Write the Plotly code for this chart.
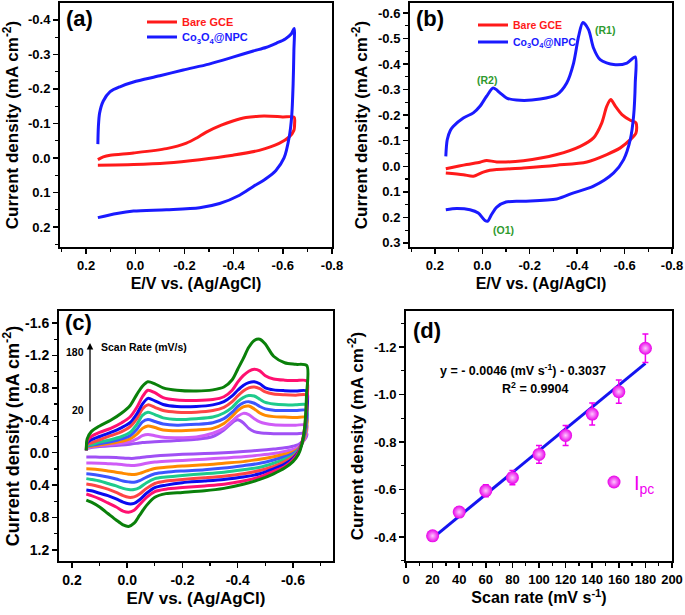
import plotly.graph_objects as go

# ---------------- Panel (a) ----------------
a_gce_x = [0.152, 0.13, 0.102, 0.007, -0.127, -0.208, -0.25, -0.289, -0.35, -0.397, -0.45, -0.504, -0.55, -0.599, -0.646,
           -0.648, -0.645, -0.626, -0.585, -0.504, -0.397, -0.262, -0.127, 0.007, 0.152]
a_gce_y = [0.005, -0.003, -0.008, -0.0145, -0.027, -0.043, -0.058, -0.075, -0.095, -0.107, -0.117, -0.121, -0.121, -0.119, -0.118,
           -0.10, -0.08, -0.061, -0.042, -0.022, -0.008, 0.005, 0.0145, 0.019, 0.021]
a_npc_x = [0.152, 0.150, 0.145, 0.13, 0.102, 0.06, 0.007, -0.1, -0.195, -0.3, -0.397, -0.48, -0.531, -0.575, -0.61, -0.635, -0.646,
           -0.645, -0.642, -0.636, -0.626, -0.605, -0.572, -0.531, -0.477, -0.424, -0.343, -0.262, -0.127, 0.007, 0.075, 0.152]
a_npc_y = [-0.04, -0.09, -0.13, -0.165, -0.192, -0.207, -0.22, -0.238, -0.255, -0.272, -0.292, -0.31, -0.32, -0.333, -0.345, -0.36, -0.375,
           -0.31, -0.215, -0.12, -0.061, 0.0, 0.036, 0.06, 0.084, 0.108, 0.132, 0.144, 0.15, 0.154, 0.161, 0.173]

# ---------------- Panel (b) ----------------
b_gce_x = [0.154, 0.066, 0.010, -0.018, -0.061, -0.173, -0.314, -0.413, -0.469, -0.504, -0.525, -0.542, -0.561, -0.589, -0.624, -0.648,
           -0.648, -0.624, -0.582, -0.525, -0.441, -0.314, -0.173, -0.032, -0.004, 0.038, 0.080, 0.154]
b_gce_y = [0.010, -0.007, -0.016, -0.023, -0.017, -0.022, -0.046, -0.078, -0.111, -0.170, -0.235, -0.261, -0.235, -0.202, -0.180, -0.170,
           -0.130, -0.104, -0.072, -0.046, -0.017, -0.004, 0.007, 0.016, 0.023, 0.039, 0.033, 0.026]
b_npc_x = [0.154, 0.148, 0.135, 0.123, 0.080, 0.038, 0.010, -0.018, -0.046, -0.075, -0.103, -0.159, -0.244, -0.314, -0.356, -0.385,
           -0.406, -0.424, -0.448, -0.469, -0.497, -0.554, -0.610, -0.645,
           -0.645, -0.638, -0.624, -0.596, -0.554, -0.469, -0.385, -0.314, -0.173, -0.10, -0.061, -0.039, -0.023, -0.011, 0.017, 0.052, 0.108, 0.154]
b_npc_y = [-0.039, -0.104, -0.14, -0.156, -0.189, -0.209, -0.235, -0.274, -0.306, -0.287, -0.267, -0.258, -0.263, -0.280, -0.326, -0.404,
           -0.508, -0.563, -0.535, -0.463, -0.417, -0.398, -0.404, -0.428,
           -0.326, -0.196, -0.104, -0.026, 0.026, 0.078, 0.104, 0.128, 0.137, 0.14, 0.16, 0.189, 0.215, 0.212, 0.183, 0.170, 0.165, 0.170]
b_labels = ["(R1)", "(R2)", "(O1)"]
b_label_x = [-0.518, -0.018, -0.089]
b_label_y = [-0.532, -0.339, 0.248]

# ---------------- Panel (c) ----------------
c_rates = [20, 40, 60, 80, 100, 120, 140, 160, 180]
c_fwd_x = [0.148, 0.145, 0.13, 0.10, 0.06, 0.02, -0.01, -0.035, -0.055, -0.075, -0.10, -0.13, -0.18, -0.25, -0.31, -0.35,
           -0.38, -0.40, -0.42, -0.44, -0.46, -0.48, -0.50, -0.53, -0.57, -0.61, -0.65]
c_rev_x = [-0.649, -0.642, -0.632, -0.62, -0.60, -0.57, -0.53, -0.48, -0.42, -0.35, -0.28, -0.20, -0.14, -0.10, -0.07, -0.045,
           -0.025, -0.005, 0.015, 0.04, 0.07, 0.10, 0.13, 0.148]
c_fwd_20 = [-0.03, -0.05, -0.065, -0.075, -0.085, -0.095, -0.105, -0.115, -0.125, -0.13, -0.135, -0.14, -0.15, -0.165, -0.20, -0.28,
            -0.37, -0.405, -0.37, -0.30, -0.26, -0.245, -0.24, -0.235, -0.235, -0.235, -0.235]
c_fwd_40 = [-0.03, -0.055, -0.07, -0.085, -0.10, -0.115, -0.135, -0.17, -0.21, -0.225, -0.21, -0.19, -0.185, -0.195, -0.24, -0.30,
            -0.39, -0.45, -0.485, -0.47, -0.42, -0.38, -0.36, -0.345, -0.34, -0.34, -0.34]
c_fwd_60 = [-0.03, -0.07, -0.08, -0.095, -0.115, -0.14, -0.17, -0.23, -0.30, -0.33, -0.31, -0.28, -0.27, -0.28, -0.30, -0.36,
            -0.45, -0.52, -0.565, -0.575, -0.54, -0.49, -0.46, -0.445, -0.44, -0.435, -0.435]
c_fwd_80 = [-0.03, -0.08, -0.09, -0.11, -0.135, -0.17, -0.21, -0.29, -0.38, -0.41, -0.385, -0.355, -0.34, -0.35, -0.37, -0.42,
            -0.50, -0.57, -0.615, -0.63, -0.61, -0.57, -0.54, -0.525, -0.52, -0.52, -0.52]
c_fwd_100 = [-0.03, -0.09, -0.10, -0.13, -0.16, -0.20, -0.25, -0.35, -0.46, -0.50, -0.47, -0.43, -0.41, -0.42, -0.44, -0.49,
             -0.56, -0.63, -0.68, -0.705, -0.70, -0.66, -0.62, -0.60, -0.59, -0.59, -0.59]
c_fwd_120 = [-0.03, -0.10, -0.12, -0.16, -0.21, -0.26, -0.32, -0.42, -0.54, -0.59, -0.56, -0.52, -0.50, -0.50, -0.52, -0.56,
             -0.63, -0.70, -0.76, -0.80, -0.81, -0.79, -0.75, -0.725, -0.715, -0.71, -0.71]
c_fwd_140 = [-0.03, -0.12, -0.16, -0.20, -0.25, -0.31, -0.37, -0.48, -0.60, -0.67, -0.64, -0.595, -0.57, -0.57, -0.59, -0.63,
             -0.70, -0.77, -0.83, -0.865, -0.875, -0.85, -0.80, -0.775, -0.765, -0.76, -0.76]
c_fwd_160 = [-0.03, -0.14, -0.20, -0.25, -0.30, -0.37, -0.44, -0.56, -0.69, -0.77, -0.74, -0.68, -0.65, -0.645, -0.655, -0.69,
             -0.77, -0.87, -0.95, -1.005, -1.03, -1.01, -0.95, -0.91, -0.895, -0.89, -0.885]
c_fwd_180 = [-0.03, -0.17, -0.26, -0.33, -0.40, -0.49, -0.58, -0.72, -0.82, -0.875, -0.85, -0.80, -0.77, -0.76, -0.775, -0.81,
             -0.90, -1.03, -1.16, -1.30, -1.385, -1.40, -1.34, -1.19, -1.11, -1.09, -1.075]
c_rev_20 = [-0.20, -0.16, -0.13, -0.10, -0.08, -0.06, -0.045, -0.03, -0.015, 0.0, 0.01, 0.02, 0.03, 0.04, 0.05, 0.062,
            0.07, 0.07, 0.065, 0.06, 0.057, 0.055, 0.054, 0.054]
c_rev_40 = [-0.25, -0.17, -0.11, -0.07, -0.04, -0.015, 0.01, 0.03, 0.05, 0.065, 0.08, 0.095, 0.105, 0.115, 0.13, 0.148,
            0.157, 0.155, 0.148, 0.14, 0.135, 0.13, 0.128, 0.128]
c_rev_60 = [-0.30, -0.19, -0.11, -0.05, -0.01, 0.02, 0.05, 0.08, 0.11, 0.13, 0.15, 0.165, 0.18, 0.195, 0.225, 0.255,
            0.27, 0.265, 0.255, 0.24, 0.225, 0.21, 0.20, 0.198]
c_rev_80 = [-0.36, -0.22, -0.12, -0.04, 0.01, 0.05, 0.09, 0.13, 0.16, 0.19, 0.21, 0.225, 0.24, 0.26, 0.30, 0.345,
            0.365, 0.36, 0.35, 0.325, 0.30, 0.28, 0.265, 0.26]
c_rev_100 = [-0.40, -0.23, -0.11, -0.03, 0.03, 0.08, 0.13, 0.18, 0.21, 0.24, 0.26, 0.28, 0.30, 0.32, 0.37, 0.43,
             0.455, 0.455, 0.44, 0.41, 0.38, 0.35, 0.33, 0.32]
c_rev_120 = [-0.47, -0.25, -0.11, -0.02, 0.05, 0.11, 0.17, 0.22, 0.26, 0.29, 0.31, 0.33, 0.35, 0.38, 0.44, 0.51,
             0.545, 0.55, 0.53, 0.49, 0.45, 0.42, 0.395, 0.385]
c_rev_140 = [-0.50, -0.26, -0.11, -0.01, 0.07, 0.14, 0.20, 0.26, 0.30, 0.33, 0.35, 0.37, 0.40, 0.43, 0.50, 0.58,
             0.625, 0.63, 0.61, 0.57, 0.53, 0.50, 0.47, 0.46]
c_rev_160 = [-0.60, -0.30, -0.12, 0.0, 0.09, 0.17, 0.23, 0.30, 0.35, 0.39, 0.41, 0.43, 0.45, 0.48, 0.55, 0.64,
             0.71, 0.735, 0.72, 0.67, 0.62, 0.57, 0.53, 0.51]
c_rev_180 = [-0.70, -0.30, -0.10, 0.02, 0.11, 0.19, 0.26, 0.33, 0.39, 0.44, 0.47, 0.49, 0.505, 0.55, 0.65, 0.77,
             0.87, 0.91, 0.89, 0.83, 0.75, 0.67, 0.61, 0.585]
c_fwd_all = [c_fwd_20, c_fwd_40, c_fwd_60, c_fwd_80, c_fwd_100, c_fwd_120, c_fwd_140, c_fwd_160, c_fwd_180]
c_rev_all = [c_rev_20, c_rev_40, c_rev_60, c_rev_80, c_rev_100, c_rev_120, c_rev_140, c_rev_160, c_rev_180]
c_colors = ["#A050F5", "#CF5CF7", "#FF8A00", "#3C55FF", "#1ECB8C", "#FF4545", "#0A0AF0", "#FF1070", "#0A800A"]

# ---------------- Panel (d) ----------------
d_rate = [20, 40, 60, 80, 100, 120, 140, 160, 180]
d_ipc = [-0.405, -0.505, -0.595, -0.650, -0.748, -0.828, -0.918, -1.012, -1.195]
d_err = [0.01, 0.02, 0.025, 0.03, 0.037, 0.042, 0.046, 0.049, 0.06]
d_slope = -0.0046
d_intercept = -0.3037
d_r2 = 0.9904
d_fit_x = [20, 180]

# ---------------- Styling helpers ----------------
FONT = "Liberation Sans, Arial, sans-serif"
W, H = 685, 615
RED, BLUE = "#FF1A1A", "#1A1AFF"


def px(x):
    return x / W


def py(y):
    return 1 - y / H


def ticks(vals, fmt):
    return [fmt.format(v) for v in vals]


fig = go.Figure()

# (a)
fig.add_trace(go.Scatter(x=a_gce_x, y=a_gce_y, mode="lines", line=dict(color=RED, width=3, shape="spline", smoothing=0.8),
                         name=f"<span style='color:{RED}'>Bare GCE</span>", xaxis="x", yaxis="y", legend="legend"))
fig.add_trace(go.Scatter(x=a_npc_x, y=a_npc_y, mode="lines", line=dict(color=BLUE, width=3, shape="spline", smoothing=0.8),
                         name=f"<span style='color:{BLUE}'>Co<sub>3</sub>O<sub>4</sub>@NPC</span>", xaxis="x", yaxis="y", legend="legend2"))
# (b)
fig.add_trace(go.Scatter(x=b_gce_x, y=b_gce_y, mode="lines", line=dict(color=RED, width=3, shape="spline", smoothing=0.8),
                         name=f"<span style='color:{RED}'>Bare GCE</span>", xaxis="x2", yaxis="y2", legend="legend3"))
fig.add_trace(go.Scatter(x=b_npc_x, y=b_npc_y, mode="lines", line=dict(color=BLUE, width=3, shape="spline", smoothing=0.8),
                         name=f"<span style='color:{BLUE}'>Co<sub>3</sub>O<sub>4</sub>@NPC</span>", xaxis="x2", yaxis="y2", legend="legend4"))
# (c)
for rate, fy, ry, col in zip(c_rates, c_fwd_all, c_rev_all, c_colors):
    fig.add_trace(go.Scatter(x=c_fwd_x + c_rev_x, y=fy + ry, mode="lines",
                             line=dict(color=col, width=3, shape="spline", smoothing=0.8),
                             name=f"{rate} mV/s", showlegend=False, xaxis="x3", yaxis="y3"))
# (d)
fig.add_trace(go.Scatter(x=d_fit_x, y=[d_slope * v + d_intercept for v in d_fit_x], mode="lines",
                         line=dict(color="#1414F0", width=3), showlegend=False, xaxis="x4", yaxis="y4"))
fig.add_trace(go.Scatter(x=d_rate, y=d_ipc, mode="markers",
                         error_y=dict(type="data", array=d_err, color="#F000F0", thickness=1.5, width=3),
                         marker=dict(size=13, color="#E800E8", gradient=dict(type="radial", color="#FFC8FF"),
                                     line=dict(width=0)),
                         name="<span style='color:#F000F0'>I<sub>pc</sub></span>", xaxis="x4", yaxis="y4", legend="legend5"))

AX = dict(showline=True, linewidth=2, linecolor="black", mirror=True, ticks="outside", ticklen=5, tickwidth=1.5,
          tickcolor="black", showgrid=False, zeroline=False, tickmode="array", automargin=False,
          tickfont=dict(family=FONT, size=13, color="black", weight="bold"))
TITLE_FONT = dict(family=FONT, size=16, color="black", weight="bold")
YTITLE_FONT = dict(family=FONT, size=17, color="black", weight="bold")


def minor(d):
    return dict(ticks="outside", ticklen=3, tickwidth=1.2, tickcolor="black", dtick=d, tick0=0)


def leg(x, y, size=11, weight="bold"):
    return dict(x=px(x), y=py(y), xanchor="left", yanchor="middle", bgcolor="rgba(0,0,0,0)", itemwidth=30,
                font=dict(family=FONT, size=size, weight=weight), tracegroupgap=0)


e_ticks = [0.2, 0.0, -0.2, -0.4, -0.6, -0.8]
ya_ticks = [-0.4, -0.3, -0.2, -0.1, 0.0, 0.1, 0.2]
yb_ticks = [-0.6, -0.5, -0.4, -0.3, -0.2, -0.1, 0.0, 0.1, 0.2, 0.3]
xc_ticks = [0.2, 0.0, -0.2, -0.4, -0.6]
yc_ticks = [-1.6, -1.2, -0.8, -0.4, 0.0, 0.4, 0.8, 1.2]
xd_ticks = list(range(0, 201, 20))
yd_ticks = [-1.2, -1.0, -0.8, -0.6, -0.4]

etitle = "E/V vs. (Ag/AgCl)"
jtitle = "Current density (mA cm<sup>-2</sup>)"

fig.update_layout(
    width=W, height=H, margin=dict(l=0, r=0, t=0, b=0), plot_bgcolor="white", paper_bgcolor="white",
    font=dict(family=FONT),
    xaxis=dict(AX, domain=[px(60), px(332)], range=[0.306, -0.8], tickvals=e_ticks, ticktext=ticks(e_ticks, "{:.1f}"),
               minor=minor(0.1), anchor="y", title=dict(text=etitle, font=TITLE_FONT, standoff=6)),
    yaxis=dict(AX, domain=[py(247), py(3)], range=[0.258, -0.449], tickvals=ya_ticks, ticktext=ticks(ya_ticks, "{:.1f}"),
               minor=minor(0.05), anchor="x", title=dict(text=jtitle, font=YTITLE_FONT, standoff=6)),
    xaxis2=dict(AX, domain=[px(410), px(672)], range=[0.305, -0.8], tickvals=e_ticks, ticktext=ticks(e_ticks, "{:.1f}"),
                minor=minor(0.1), anchor="y2", title=dict(text=etitle, font=TITLE_FONT, standoff=6)),
    yaxis2=dict(AX, domain=[py(247), py(3)], range=[0.316, -0.639], tickvals=yb_ticks, ticktext=ticks(yb_ticks, "{:.1f}"),
                minor=minor(0.05), anchor="x2", title=dict(text=jtitle, font=YTITLE_FONT, standoff=6)),
    xaxis3=dict(AX, domain=[px(59), px(333)], range=[0.247, -0.745], tickvals=xc_ticks, ticktext=ticks(xc_ticks, "{:.1f}"),
                minor=minor(0.1), anchor="y3", tickfont=dict(family=FONT, size=14, color="black", weight="bold"),
                title=dict(text=etitle, font=dict(TITLE_FONT, size=17), standoff=5)),
    yaxis3=dict(AX, domain=[py(561), py(311)], range=[1.336, -1.748], tickvals=yc_ticks, ticktext=ticks(yc_ticks, "{:.1f}"),
                minor=minor(0.2), anchor="x3", tickfont=dict(family=FONT, size=14, color="black", weight="bold"),
                title=dict(text=jtitle, font=dict(YTITLE_FONT, size=18), standoff=4)),
    xaxis4=dict(AX, domain=[px(406), px(672)], range=[0, 200], tickvals=xd_ticks, ticktext=[str(v) for v in xd_ticks],
                minor=minor(10), anchor="y4", title=dict(text="Scan rate (mV s<sup>-1</sup>)", font=TITLE_FONT, standoff=6)),
    yaxis4=dict(AX, domain=[py(561), py(311)], range=[-0.299, -1.352], tickvals=yd_ticks, ticktext=ticks(yd_ticks, "{:.1f}"),
                minor=minor(0.1), anchor="x4", title=dict(text=jtitle, font=YTITLE_FONT, standoff=6)),
    legend=leg(142, 22),
    legend2=leg(142, 37),
    legend3=leg(473, 25, size=10.5),
    legend4=leg(473, 42, size=10.5),
    legend5=leg(594, 482, size=20, weight="normal"),
)

ann = []
for lab, (xx, yy) in zip(["(a)", "(b)", "(c)", "(d)"], [(64, 18), (414, 18), (63, 323), (411, 330)]):
    ann.append(dict(text=f"<b>{lab}</b>", x=px(xx), y=py(yy), xref="paper", yref="paper", xanchor="left", yanchor="middle",
                    showarrow=False, font=dict(family=FONT, size=22, color="black")))
for t, xx, yy in zip(b_labels, b_label_x, b_label_y):
    ann.append(dict(text=f"<b>{t}</b>", x=xx, y=yy, xref="x2", yref="y2", showarrow=False, xanchor="center",
                    font=dict(family=FONT, size=10.5, color="#2E9A2E")))
# scan rate arrow in (c)
ann.append(dict(text="", x=px(90), y=py(343), ax=0, ay=80, xref="paper", yref="paper", axref="pixel", ayref="pixel",
                showarrow=True, arrowhead=2, arrowsize=1, arrowwidth=1.3, arrowcolor="black"))
ann.append(dict(text=f"<b>{c_rates[-1]}</b>", x=px(86), y=py(352), xref="paper", yref="paper", xanchor="right", showarrow=False,
                font=dict(family=FONT, size=10.5, color="black")))
ann.append(dict(text=f"<b>{c_rates[0]}</b>", x=px(86), y=py(418), xref="paper", yref="paper", xanchor="right", showarrow=False,
                font=dict(family=FONT, size=10.5, color="black")))
ann.append(dict(text="<b>Scan Rate (mV/s)</b>", x=px(99), y=py(347), xref="paper", yref="paper", xanchor="left", showarrow=False,
                font=dict(family=FONT, size=10.5, color="black")))
# equation in (d)
ann.append(dict(text=f"<b>y = - {abs(d_slope):.4f} (mV s<sup>-1</sup>) - {abs(d_intercept):.4f}</b>", x=px(523), y=py(370),
                xref="paper", yref="paper", xanchor="center", yanchor="middle", showarrow=False,
                font=dict(family=FONT, size=12.5, color="black")))
ann.append(dict(text=f"<b>R<sup>2</sup> = {d_r2:.4f}</b>", x=px(535), y=py(388), xref="paper", yref="paper",
                xanchor="center", yanchor="middle", showarrow=False, font=dict(family=FONT, size=12.5, color="black")))
fig.update_layout(annotations=ann)

fig.write_html("out.html", config={"displayModeBar": False, "staticPlot": True})

# remove the browser's default page margin so the figure sits at the window's top-left corner
with open("out.html", "r", encoding="utf-8") as f:
    html = f.read()
html = html.replace("<head>", "<head><style>html,body{margin:0;padding:0;overflow:hidden;}</style>", 1)
with open("out.html", "w", encoding="utf-8") as f:
    f.write(html)
